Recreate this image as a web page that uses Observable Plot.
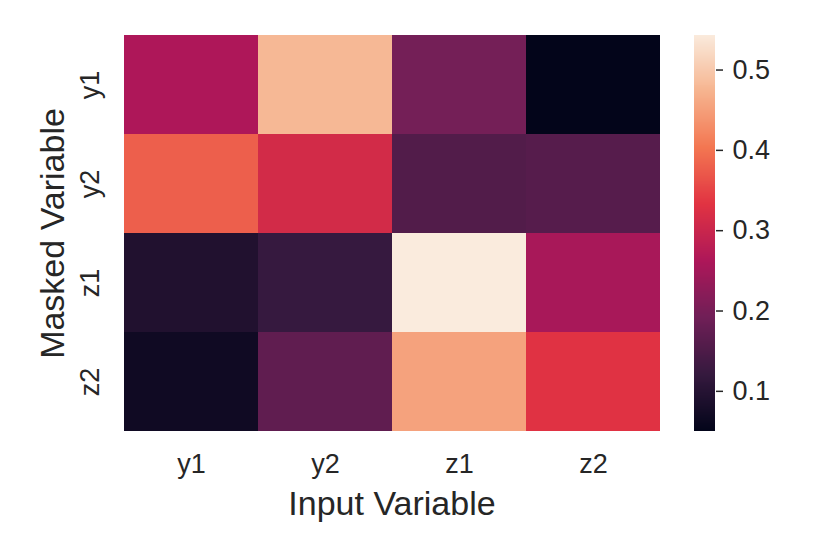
<!DOCTYPE html>
<html>
<head>
<meta charset="utf-8">
<script src="https://cdn.jsdelivr.net/npm/d3@7"></script>
<script src="https://cdn.jsdelivr.net/npm/@observablehq/plot@0.6"></script>
<style>
  body { margin: 0; background: #fff; }
  #wrap { position: relative; width: 830px; height: 554px; font-family: "Liberation Sans", Arial, sans-serif; }
  #wrap svg { position: absolute; top: 0; }
</style>
</head>
<body>
<div id="wrap"></div>
<script>
// Data
const inputVars = ["y1", "y2", "z1", "z2"];          // columns (x)
const maskedVars = ["y1", "y2", "z1", "z2"];         // rows (y)
const rowY1 = [0.262, 0.478, 0.195, 0.050];
const rowY2 = [0.378, 0.312, 0.155, 0.160];
const rowZ1 = [0.092, 0.122, 0.543, 0.255];
const rowZ2 = [0.068, 0.172, 0.452, 0.330];
const colorTicks = [0.1, 0.2, 0.3, 0.4, 0.5];
const colorDomain = [0.050, 0.543];

const rowsData = [rowY1, rowY2, rowZ1, rowZ2];
const table = [];
maskedVars.forEach((r, i) => inputVars.forEach((c, j) => table.push({row: r, col: c, value: rowsData[i][j]})));

// seaborn "rocket" colormap (approximate stops)
const rocket = d3.piecewise(d3.interpolateRgb, ["#03051a", "#35193e", "#701f57", "#ad1759", "#e13342", "#f37651", "#f6b48f", "#faebdd"]);
const colorScale = {type: "linear", domain: colorDomain, interpolate: t => rocket(t)};

const textColor = "#262626";
const font = "Liberation Sans, Arial, sans-serif";

const main = Plot.plot({
  width: 830, height: 554,
  marginLeft: 123, marginRight: 170, marginTop: 35, marginBottom: 123,
  style: {fontFamily: font, color: textColor, background: "transparent"},
  x: {type: "band", domain: inputVars, padding: 0, axis: null},
  y: {type: "band", domain: maskedVars, padding: 0, axis: null},
  color: colorScale,
  marks: [
    Plot.cell(table, {x: "col", y: "row", fill: "value", inset: 0}),
    Plot.text(inputVars, {x: d => d, text: d => d, frameAnchor: "bottom", lineAnchor: "bottom", dy: 41, fontSize: 27, fill: textColor}),
    Plot.text(maskedVars, {y: d => d, text: d => d, frameAnchor: "left", rotate: -90, textAnchor: "middle", lineAnchor: "bottom", dx: -25, fontSize: 27, fill: textColor}),
    Plot.text(["Input Variable"], {text: d => d, frameAnchor: "bottom", lineAnchor: "bottom", dy: 83, fontSize: 34, fill: textColor}),
    Plot.text(["Masked Variable"], {text: d => d, frameAnchor: "left", rotate: -90, textAnchor: "middle", lineAnchor: "bottom", dx: -60, fontSize: 34, fill: textColor})
  ]
});

// Colorbar
const step = (colorDomain[1] - colorDomain[0]) / 400;
const ramp = d3.range(colorDomain[0], colorDomain[1], step);
const bar = Plot.plot({
  width: 136, height: 554,
  marginLeft: 0, marginRight: 115, marginTop: 35, marginBottom: 123,
  style: {fontFamily: font, color: textColor, background: "transparent", overflow: "visible"},
  y: {type: "linear", domain: colorDomain, axis: null},
  color: colorScale,
  marks: [
    Plot.rectY(ramp, {y1: d => d, y2: d => Math.min(d + step * 1.8, colorDomain[1]), fill: d => d, shapeRendering: "crispEdges"}),
    Plot.axisY({anchor: "right", ticks: colorTicks, tickFormat: d3.format(".1f"), tickSize: 7, tickPadding: 10, fontSize: 27, stroke: textColor, strokeWidth: 1.5, fill: textColor, textAnchor: "start", label: null})
  ]
});

const wrap = document.getElementById("wrap");
main.style.left = "0px";
bar.style.left = "694px";
wrap.appendChild(main);
wrap.appendChild(bar);
</script>
</body>
</html>
